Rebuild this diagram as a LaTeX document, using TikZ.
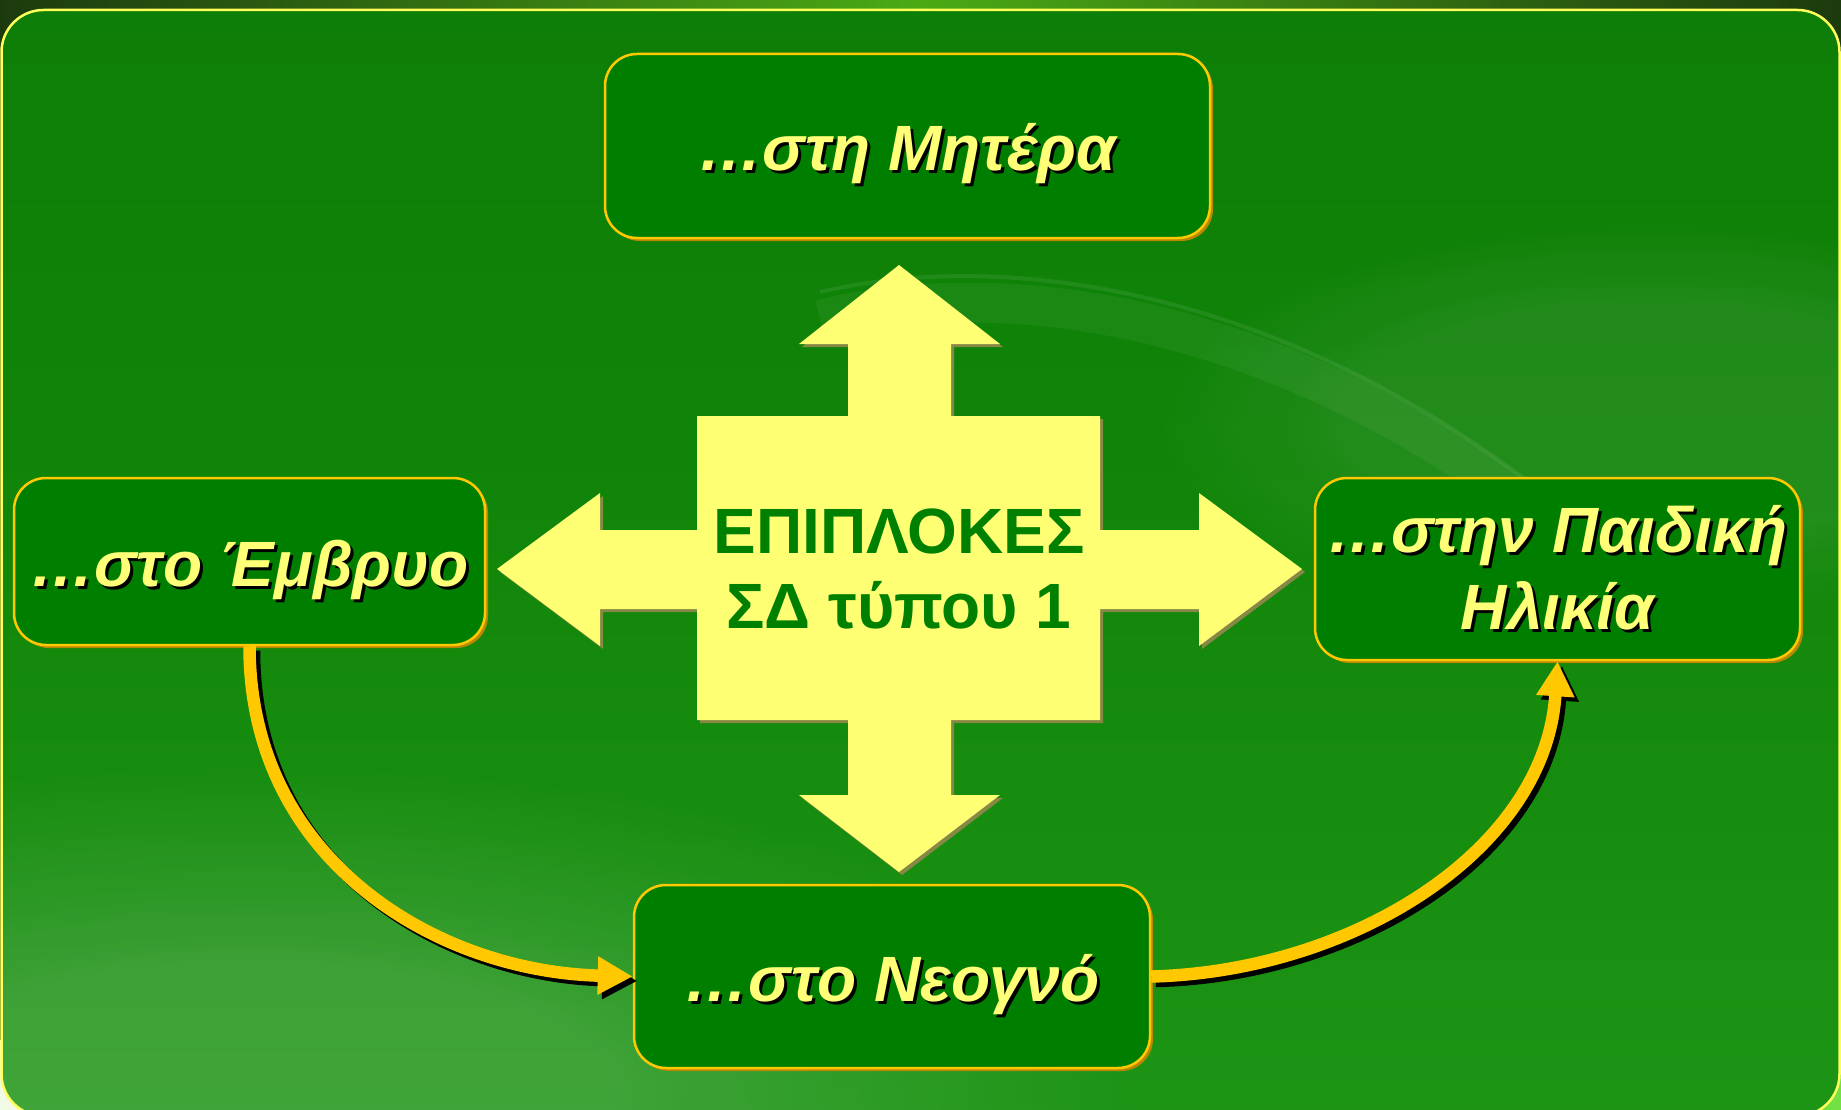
\documentclass[tikz,border=0pt]{standalone}
\usepackage{fontspec}
\setmainfont{Liberation Sans}
\usetikzlibrary{arrows.meta,shadows,fadings}
\definecolor{boxgreen}{RGB}{0,126,0}
\definecolor{gold}{RGB}{255,200,0}
\definecolor{golddark}{RGB}{185,135,0}
\definecolor{paleyellow}{RGB}{255,255,120}
\definecolor{crossyellow}{RGB}{255,255,115}
\definecolor{crossshadow}{RGB}{135,135,70}
\definecolor{textgreen}{RGB}{0,128,0}
\definecolor{frameyellow}{RGB}{255,255,90}
\definecolor{bgA}{RGB}{10,118,5}
\definecolor{bgB}{RGB}{16,132,8}
\definecolor{bgC}{RGB}{30,150,22}
\definecolor{bgD}{RGB}{60,160,52}
\definecolor{topdark}{RGB}{28,58,14}
\definecolor{toplight}{RGB}{75,170,20}
\definecolor{cornerlight}{RGB}{240,250,230}
\definecolor{cornergreen}{RGB}{115,225,65}
\pgfdeclareverticalshading{bgshade}{100bp}{color(0bp)=(bgD); color(22bp)=(bgC); color(55bp)=(bgB); color(100bp)=(bgA)}
\newcommand\shadowtext[1]{\leavevmode\rlap{\kern3pt\raisebox{-3pt}{\color{black}#1}}#1}
\begin{document}
\begin{tikzpicture}[x=1pt,y=-1pt,
  box/.style={draw=gold, line width=2.5pt, fill=boxgreen, rounded corners=32pt,
    text=paleyellow, font=\bfseries\itshape\fontsize{64}{77}\selectfont,
    align=center, inner sep=0pt,
    drop shadow={shadow xshift=3pt, shadow yshift=-3pt, fill=golddark, opacity=1}},
  onetext/.style={text height=50pt, text depth=0pt},
  flow/.style={line width=12.5pt, -{Triangle[length=35pt,width=36pt]}},
  flowshadow/.style={flow, black, transform canvas={xshift=4.5pt,yshift=-4.5pt}},
  glow/.style={white, path fading=circle with fuzzy edge 20 percent}]
\useasboundingbox (0,0) rectangle (1841,1110);
% outside background
\shade[left color=topdark, right color=topdark, middle color=toplight] (0,0) rectangle (1841,1110);
\fill[cornerlight] (0,1040) rectangle (70,1110);
\fill[cornergreen] (1770,1040) rectangle (1841,1110);
% frame
\shade[shading=bgshade, rounded corners=42pt] (1.5,10) rectangle (1839.5,1116);
\begin{scope}
\clip[rounded corners=42pt] (1.5,10) rectangle (1839.5,1116);
\foreach \rx/\ry in {900/330, 750/270, 600/210, 450/160} {
  \fill[glow, fill opacity=0.045] (250,1090) ellipse (\rx pt and \ry pt);
}
\foreach \rx/\ry in {500/200, 380/150} {
  \fill[glow, fill opacity=0.04] (1650,420) ellipse (\rx pt and \ry pt);
}
\draw[white, opacity=0.05, line width=40pt] (820,320) .. controls (1020,270) and (1320,320) .. (1600,565);
\draw[white, opacity=0.08, line width=4pt] (820,292) .. controls (1020,245) and (1320,295) .. (1600,540);
\end{scope}
\draw[frameyellow, line width=2.5pt, rounded corners=42pt] (1.5,10) rectangle (1839.5,1116);
% central cross
\foreach \col/\off in {crossshadow/3, crossyellow/0} {
  \fill[\col, shift={(\off,\off)}] (899,265) -- (1000,344) -- (951,344) -- (951,416) -- (1100,416)
    -- (1100,530) -- (1199,530) -- (1199,493) -- (1302,569) -- (1199,646) -- (1199,609)
    -- (1100,609) -- (1100,720) -- (951,720) -- (951,795) -- (1000,795) -- (899,872)
    -- (799,795) -- (848,795) -- (848,720) -- (697,720) -- (697,609) -- (600,609)
    -- (600,646) -- (497,569) -- (600,493) -- (600,530) -- (697,530) -- (697,416)
    -- (848,416) -- (848,344) -- (799,344) -- cycle;
}
\node[font=\bfseries\fontsize{64}{75}\selectfont, text=textgreen, align=center, inner sep=0pt]
  (core) at (899,569) {ΕΠΙΠΛΟΚΕΣ\\ΣΔ τύπου 1};
% boxes
\node[box, onetext, minimum width=605pt, minimum height=184pt] (mother) at (907.5,146) {\shadowtext{…στη Μητέρα}};
\node[box, onetext, minimum width=471pt, minimum height=167pt] (fetus) at (249.5,561.5) {\shadowtext{…στο Έμβρυο}};
\node[box, minimum width=485pt, minimum height=182pt] (child) at (1557.5,569) {\shadowtext{…στην Παιδική}\\\shadowtext{Ηλικία}};
\node[box, onetext, minimum width=516pt, minimum height=183pt] (newborn) at (892,976.5) {\shadowtext{…στο Νεογνό}};
% curved arrows
\draw[flowshadow] (fetus.south) .. controls +(0,215) and +(-195,-5) .. (newborn.west);
\draw[flow, gold] (fetus.south) .. controls +(0,215) and +(-195,-5) .. (newborn.west);
\draw[flowshadow] (newborn.east) .. controls +(200,-5) and +(-12,190) .. (child.south);
\draw[flow, gold] (newborn.east) .. controls +(200,-5) and +(-12,190) .. (child.south);
\end{tikzpicture}
\end{document}
